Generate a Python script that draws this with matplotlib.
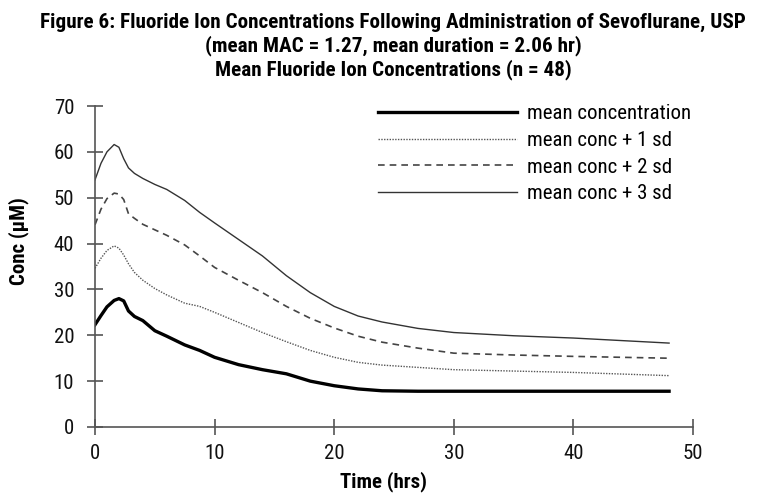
import matplotlib
matplotlib.use("Agg")
import matplotlib.pyplot as plt
from matplotlib import font_manager as fm
from matplotlib.lines import Line2D

# ---- data ----
time_hrs = [0, 0.5, 1, 1.6, 2.0, 2.4, 2.8, 3.3, 4, 5, 6, 7.5, 8.75, 10, 12, 14, 16, 18, 20, 22, 24, 27, 30, 35, 40, 48]
mean_conc = [22.3, 24.3, 26.2, 27.6, 28.0, 27.5, 25.3, 24.1, 23.2, 21.0, 19.8, 17.9, 16.7, 15.2, 13.6, 12.5, 11.6, 10.0, 9.0, 8.3, 7.9, 7.8, 7.8, 7.8, 7.8, 7.8]
mean_1sd = [34.6, 36.8, 38.5, 39.5, 39.0, 37.5, 35.6, 33.7, 32.0, 30.2, 28.8, 27.0, 26.3, 25.0, 22.8, 20.6, 18.6, 16.7, 15.2, 14.1, 13.5, 13.0, 12.5, 12.2, 11.9, 11.2]
mean_2sd = [44.1, 47.5, 49.8, 51.0, 50.8, 49.6, 46.5, 45.5, 44.2, 43.0, 41.8, 39.7, 37.3, 34.8, 32.0, 29.3, 26.3, 23.7, 21.6, 19.8, 18.5, 17.2, 16.1, 15.7, 15.4, 15.0]
mean_3sd = [53.9, 57.5, 60.0, 61.6, 61.0, 58.5, 56.5, 55.3, 54.2, 52.9, 51.8, 49.4, 46.8, 44.5, 40.9, 37.3, 33.0, 29.3, 26.3, 24.2, 22.9, 21.5, 20.6, 19.9, 19.4, 18.3]
series_labels = ["mean concentration", "mean conc + 1 sd", "mean conc + 2 sd", "mean conc + 3 sd"]
x_ticks = [0, 10, 20, 30, 40, 50]
y_ticks = [0, 10, 20, 30, 40, 50, 60, 70]
title_lines = ["Figure 6: Fluoride Ion Concentrations Following Administration of Sevoflurane, USP",
               "(mean MAC = 1.27, mean duration = 2.06 hr)",
               "Mean Fluoride Ion Concentrations (n = 48)"]

available = {f.name for f in fm.fontManager.ttflist}
prefs = ['Nimbus Sans Narrow', 'Liberation Sans Narrow', 'Arial Narrow', 'Roboto Condensed',
         'Archivo Narrow', 'PT Sans Narrow', 'Pragati Narrow', 'Barlow Condensed', 'Cabin Condensed']
narrow = next((p for p in prefs if p in available), 'DejaVu Sans')
FONT = [narrow, 'DejaVu Sans']
plt.rcParams['font.family'] = FONT

W, H = 759, 493
fig = plt.figure(figsize=(W / 100, H / 100), dpi=100)
ax = fig.add_axes([95 / W, 1 - 427 / H, (693 - 95) / W, (427 - 106) / H])

axis_col = '#555555'
styles = [dict(color='black', lw=2.4),
          dict(color='#555555', lw=1.0, linestyle=(0, (1, 1))),
          dict(color='#444444', lw=1.2, linestyle=(0, (4, 3))),
          dict(color='#333333', lw=1.0)]
for ys, st in zip([mean_conc, mean_1sd, mean_2sd, mean_3sd], styles):
    ax.plot(time_hrs, ys, **st)

ax.set_xlim(0, 50)
ax.set_ylim(0, 70)
ax.set_xticks(x_ticks)
ax.set_yticks(y_ticks)
for s in ['top', 'right']:
    ax.spines[s].set_visible(False)
for s in ['left', 'bottom']:
    ax.spines[s].set_color(axis_col)
    ax.spines[s].set_linewidth(1.2)
ax.tick_params(axis='both', direction='inout', length=12, width=1.2, color=axis_col,
               labelsize=15, labelcolor='#111111')
ax.tick_params(axis='x', pad=6)
ax.tick_params(axis='y', pad=9)

ax.set_xlabel('Time (hrs)', fontsize=15, fontweight='bold')
ax.xaxis.label.set_va('center')
ax.xaxis.set_label_coords((383 - 95) / 598, (427 - 482) / 321)
ax.set_ylabel('Conc (µM)', fontsize=15, fontweight='bold')
ax.yaxis.label.set_va('center')
ax.yaxis.set_label_coords((19 - 95) / 598, (427 - 241) / 321)

handles = [Line2D([], [], **st) for st in styles]
leg = ax.legend(handles, series_labels, loc='upper left', bbox_to_anchor=((378 - 95) / 598, 1.005),
                frameon=False, fontsize=15, handlelength=6.67, handletextpad=0.48,
                labelspacing=0.364, borderaxespad=0, borderpad=0)

for line, base in zip(title_lines, [28.3, 51.7, 75.0]):
    fig.text(393 / W, 1 - base / H, line, ha='center', va='baseline',
             fontsize=15.2, fontweight='bold')

fig.savefig('out.png', dpi=100)
